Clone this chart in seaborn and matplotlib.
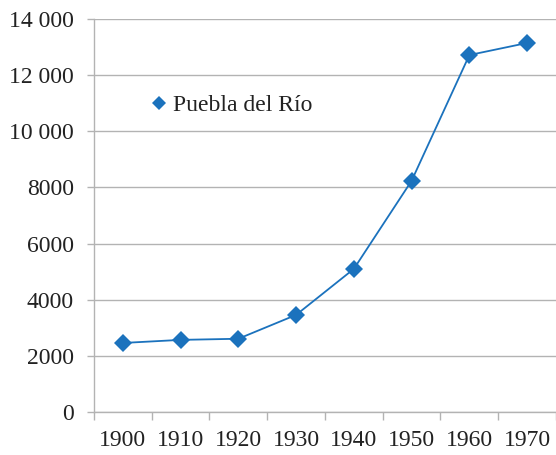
import numpy as np
import pandas as pd
import matplotlib
matplotlib.use("Agg")
import matplotlib.pyplot as plt
from matplotlib.lines import Line2D
import seaborn as sns

years = ["1900", "1910", "1920", "1930", "1940", "1950", "1960", "1970"]
population = [2460, 2570, 2610, 3460, 5100, 8240, 12720, 13150]
y_ticks = [0, 2000, 4000, 6000, 8000, 10000, 12000, 14000]
y_labels = ["0", "2000", "4000", "6000", "8000", "10 000", "12 000", "14 000"]
series_name = "Puebla del Río"

sns.set_style("white")
plt.rcParams["font.family"] = ["Liberation Serif", "DejaVu Serif"]

blue = "#1b72bd"
grey = "#b3b3b3"

df = pd.DataFrame({"pos": np.arange(len(years)), "value": population})

fig = plt.figure(figsize=(5.56, 4.55), dpi=100)
ax = fig.add_axes([0.169, 0.0945, 0.831, 0.8635])

sns.lineplot(data=df, x="pos", y="value", ax=ax, color=blue, linewidth=1.3,
             marker="D", markersize=9, markeredgewidth=0, legend=False)

ax.set_xlim(-0.5, len(years) - 0.5)
ax.set_ylim(0, 14000)

# category axis: ticks between categories, labels centred
ax.set_xticks(np.arange(len(years) + 1) - 0.5)
ax.set_xticklabels([])
ax.set_xticks(np.arange(len(years)), minor=True)
ax.set_xticklabels(years, minor=True, fontsize=17)
ax.tick_params(axis="x", which="major", bottom=True, length=5.8, width=1, color=grey, direction="out")
ax.tick_params(axis="x", which="minor", bottom=True, length=0, pad=13)

ax.set_yticks(y_ticks)
ax.set_yticklabels(y_labels, fontsize=17)
ax.tick_params(axis="y", left=True, length=5, width=1, color=grey, direction="out", pad=9.5)

ax.yaxis.grid(True, color=grey, linewidth=1)
ax.set_axisbelow(True)
for side in ["top", "right"]:
    ax.spines[side].set_visible(False)
for side in ["left", "bottom"]:
    ax.spines[side].set_color(grey)
    ax.spines[side].set_linewidth(1)

ax.set_xlabel("")
ax.set_ylabel("")
for lab in ax.get_xticklabels(minor=True) + ax.get_yticklabels():
    lab.set_color("#222222")

handle = Line2D([], [], color=blue, marker="D", linestyle="none", markersize=7.5, markeredgewidth=0)
ax.legend([handle], [series_name], loc="upper left", bbox_to_anchor=(0.08, 0.862),
          frameon=False, fontsize=17, handlelength=0.6, handletextpad=0.3,
          labelcolor="#222222")

fig.savefig("out.png", dpi=100)
